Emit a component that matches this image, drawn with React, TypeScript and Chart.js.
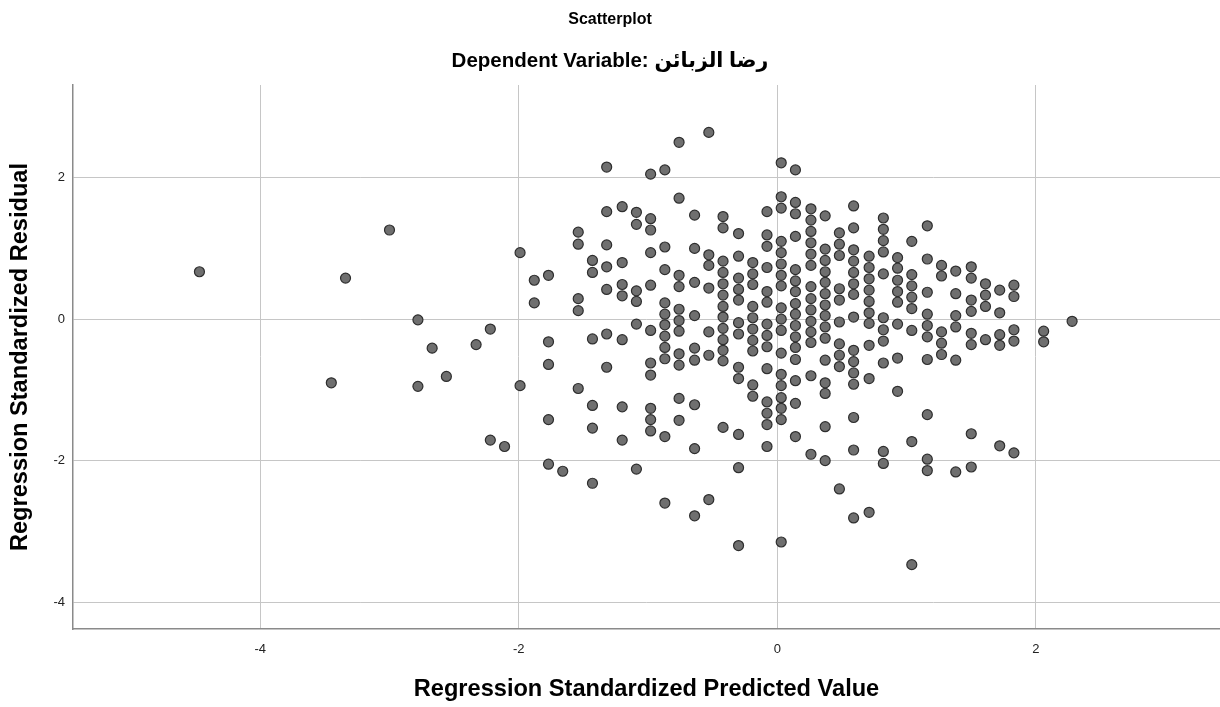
import React, { useEffect, useRef } from 'react';
import { Chart, registerables } from 'chart.js';

Chart.register(...registerables);

const FONT = '"Liberation Sans", Arial, "DejaVu Sans", sans-serif';

const chartTitle = 'Scatterplot';
const chartSubtitle = 'Dependent Variable: رضا الزبائن';
const xAxisTitle = 'Regression Standardized Predicted Value';
const yAxisTitle = 'Regression Standardized Residual';

const xTickValues = [-4, -2, 0, 2];
const yTickValues = [-4, -2, 0, 2];

// Discrete predicted values (one per column of points)
const predictedValues = [
  -4.47, -3.45, -3.34, -3.0, -2.78, -2.67, -2.56, -2.33, -2.22, -2.11,
  -1.99, -1.88, -1.77, -1.66, -1.54, -1.43, -1.32, -1.2, -1.09, -0.98,
  -0.87, -0.76, -0.64, -0.53, -0.42, -0.3, -0.19, -0.08, 0.03, 0.14,
  0.26, 0.37, 0.48, 0.59, 0.71, 0.82, 0.93, 1.04, 1.16, 1.27,
  1.38, 1.5, 1.61, 1.72, 1.83, 2.06, 2.28,
];

// Standardized residuals observed at each predicted value above
const residualsByPredicted = [
  [0.67],
  [-0.9],
  [0.58],
  [1.26],
  [-0.01, -0.95],
  [-0.41],
  [-0.81],
  [-0.36],
  [-0.14, -1.71],
  [-1.8],
  [0.94, -0.94],
  [0.55, 0.23],
  [0.62, -0.32, -0.64, -1.42, -2.05],
  [-2.15],
  [1.23, 1.06, 0.29, 0.12, -0.98],
  [0.83, 0.66, -0.28, -1.22, -1.54, -2.32],
  [2.15, 1.52, 1.05, 0.74, 0.42, -0.21, -0.68],
  [1.59, 0.8, 0.49, 0.33, -0.29, -1.24, -1.71],
  [1.51, 1.34, 0.4, 0.25, -0.07, -2.12],
  [2.05, 1.42, 1.26, 0.94, 0.48, -0.16, -0.62, -0.79, -1.26, -1.42, -1.58],
  [2.11, 1.02, 0.7, 0.23, 0.07, -0.08, -0.24, -0.4, -0.56, -1.66, -2.6],
  [2.5, 1.71, 0.62, 0.46, 0.14, -0.02, -0.17, -0.49, -0.65, -1.12, -1.43],
  [1.47, 1.0, 0.52, 0.05, -0.41, -0.58, -1.21, -1.83, -2.78],
  [2.64, 0.91, 0.76, 0.44, -0.18, -0.51, -2.55],
  [1.45, 1.29, 0.82, 0.66, 0.5, 0.34, 0.18, 0.03, -0.13, -0.29, -0.44, -0.59, -1.53],
  [1.21, 0.89, 0.58, 0.42, 0.27, -0.05, -0.21, -0.68, -0.84, -1.63, -2.1, -3.2],
  [0.8, 0.64, 0.49, 0.18, 0.02, -0.14, -0.3, -0.45, -0.93, -1.09],
  [1.52, 1.19, 1.03, 0.73, 0.39, 0.24, -0.07, -0.23, -0.39, -0.7, -1.17, -1.33, -1.49, -1.8],
  [2.21, 1.73, 1.57, 1.1, 0.94, 0.78, 0.62, 0.47, 0.16, 0.0, -0.16, -0.48, -0.78, -0.94, -1.11, -1.26, -1.42, -3.15],
  [2.11, 1.65, 1.49, 1.17, 0.7, 0.54, 0.39, 0.22, 0.07, -0.09, -0.25, -0.4, -0.57, -0.87, -1.19, -1.66],
  [1.56, 1.4, 1.24, 1.08, 0.92, 0.76, 0.46, 0.29, 0.13, -0.03, -0.18, -0.33, -0.8, -1.91],
  [1.46, 0.99, 0.83, 0.67, 0.52, 0.36, 0.2, 0.05, -0.11, -0.27, -0.58, -0.9, -1.05, -1.52, -2.0],
  [1.22, 1.06, 0.9, 0.43, 0.27, -0.04, -0.35, -0.51, -0.67, -2.4],
  [1.6, 1.29, 0.98, 0.82, 0.66, 0.5, 0.35, 0.03, -0.44, -0.6, -0.76, -0.92, -1.39, -1.85, -2.81],
  [0.89, 0.73, 0.57, 0.41, 0.25, 0.09, -0.06, -0.37, -0.84, -2.73],
  [1.43, 1.27, 1.11, 0.95, 0.64, 0.02, -0.15, -0.31, -0.62, -1.87, -2.04],
  [0.87, 0.72, 0.55, 0.39, 0.24, -0.07, -0.55, -1.02],
  [1.1, 0.63, 0.47, 0.31, 0.15, -0.16, -1.73, -3.47],
  [1.32, 0.85, 0.38, 0.07, -0.09, -0.25, -0.57, -1.35, -1.98, -2.14],
  [0.76, 0.61, -0.18, -0.34, -0.5],
  [0.68, 0.36, 0.05, -0.11, -0.58, -2.16],
  [0.74, 0.58, 0.27, 0.11, -0.2, -0.36, -1.62, -2.09],
  [0.5, 0.34, 0.18, -0.29],
  [0.41, 0.09, -0.22, -0.37, -1.79],
  [0.48, 0.32, -0.15, -0.31, -1.89],
  [-0.17, -0.32],
  [-0.03],
];

const xRange = [-5.448, 3.424];
const yRange = [-4.38, 3.31];

export default function App() {
  const canvasRef = useRef<HTMLCanvasElement | null>(null);

  useEffect(() => {
    const canvas = canvasRef.current;
    if (!canvas) return;

    const points = predictedValues.flatMap((x, i) =>
      residualsByPredicted[i].map((y) => ({ x, y }))
    );

    const chart = new Chart(canvas, {
      type: 'scatter',
      data: {
        datasets: [
          {
            data: points,
            backgroundColor: '#6f6f6f',
            borderColor: '#2e2e2e',
            borderWidth: 1.2,
            pointRadius: 5,
            pointHoverRadius: 5,
          },
        ],
      },
      options: {
        animation: false,
        responsive: false,
        events: [],
        layout: { padding: 0, autoPadding: false },
        plugins: {
          legend: { display: false },
          tooltip: { enabled: false },
          title: {
            display: true,
            text: chartTitle,
            color: '#000',
            font: { family: FONT, size: 16, weight: 'bold' },
            padding: { top: 9.5, bottom: 10 },
          },
          subtitle: {
            display: true,
            text: chartSubtitle,
            color: '#000',
            font: { family: FONT, size: 20.5, weight: 'bold' },
            padding: { top: 10.5, bottom: 11.2 },
          },
        },
        scales: {
          x: {
            type: 'linear',
            min: xRange[0],
            max: xRange[1],
            afterBuildTicks: (scale: any) => {
              scale.ticks = xTickValues.map((v) => ({ value: v }));
            },
            afterFit: (scale: any) => {
              scale.height = 78;
              scale.paddingLeft = 0;
              scale.paddingRight = 0;
            },
            grid: { color: '#c6c6c6', lineWidth: 1, drawTicks: false },
            border: { display: true, color: '#8a8a8a', width: 1.5 },
            ticks: {
              color: '#222',
              font: { family: FONT, size: 13 },
              padding: 13,
              maxRotation: 0,
            },
            title: {
              display: true,
              text: xAxisTitle,
              color: '#000',
              font: { family: FONT, size: 23.6, weight: 'bold' },
              padding: { top: 4, bottom: 3 },
            },
          },
          y: {
            type: 'linear',
            min: yRange[0],
            max: yRange[1],
            afterBuildTicks: (scale: any) => {
              scale.ticks = yTickValues.map((v) => ({ value: v }));
            },
            afterFit: (scale: any) => {
              scale.width = 73;
              scale.paddingTop = 0;
              scale.paddingBottom = 0;
            },
            grid: { color: '#c6c6c6', lineWidth: 1, drawTicks: false },
            border: { display: true, color: '#8a8a8a', width: 1.5 },
            ticks: {
              color: '#222',
              font: { family: FONT, size: 13 },
              padding: 8,
            },
            title: {
              display: true,
              text: yAxisTitle,
              color: '#000',
              font: { family: FONT, size: 23.6, weight: 'bold' },
              padding: { top: 6, bottom: 4 },
            },
          },
        },
      },
    });

    return () => chart.destroy();
  }, []);

  return (
    <div style={{ position: 'fixed', left: 0, top: 0, width: 1220, height: 707, background: '#fff' }}>
      <canvas ref={canvasRef} width={1220} height={707} style={{ display: 'block' }} />
    </div>
  );
}
